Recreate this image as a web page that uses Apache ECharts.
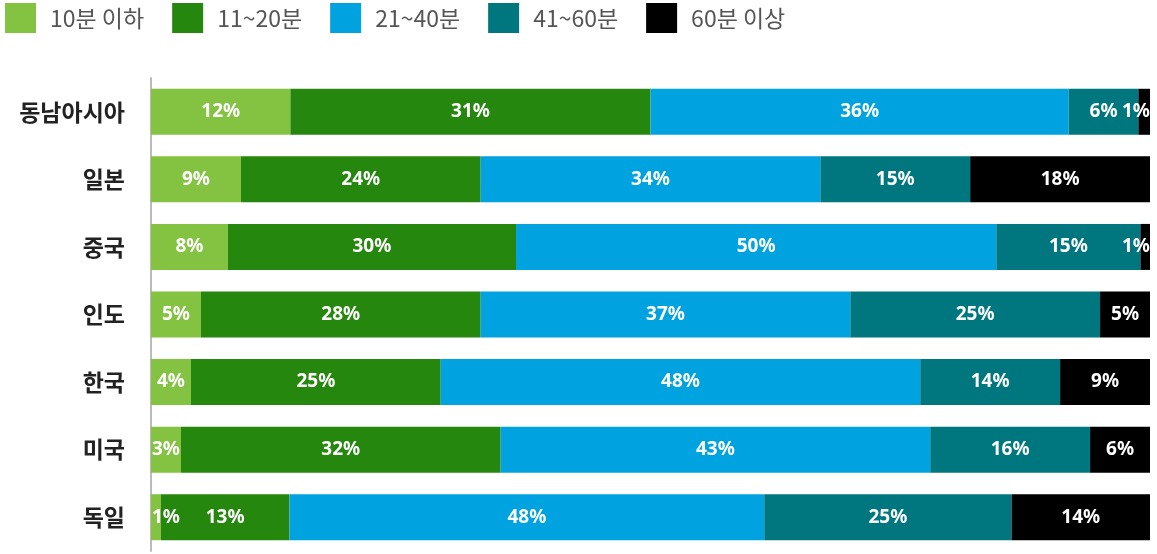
<!DOCTYPE html>
<html>
<head>
<meta charset="utf-8">
<script src="https://cdn.jsdelivr.net/npm/echarts@6/dist/echarts.min.js"></script>
<style>
  html, body { margin: 0; padding: 0; background: #fff; }
  #chart { width: 1157px; height: 554px; }
</style>
</head>
<body>
<div id="chart"></div>
<script>
// Commute time distribution by country (share of respondents, %)
const countries = ['동남아시아', '일본', '중국', '인도', '한국', '미국', '독일'];
const bandNames = ['10분 이하', '11~20분', '21~40분', '41~60분', '60분 이상'];
const bandColors = ['#84C341', '#26870E', '#00A3E0', '#00777F', '#000000'];

const under10 = [12, 9, 8, 5, 4, 3, 1];
const min11to20 = [31, 24, 30, 28, 25, 32, 13];
const min21to40 = [36, 34, 50, 37, 48, 43, 48];
const min41to60 = [6, 15, 15, 25, 14, 16, 25];
const over60 = [1, 18, 1, 5, 9, 6, 14];

const bands = [under10, min11to20, min21to40, min41to60, over60];

// Each bar is drawn as a 100% stack: a segment's length is its share of the row total.
const rowTotals = countries.map((_, i) => bands.reduce((s, b) => s + b[i], 0));

const series = bands.map((vals, k) => ({
  name: bandNames[k],
  type: 'bar',
  stack: 'total',
  barWidth: 46,
  itemStyle: { color: bandColors[k] },
  label: {
    show: true,
    position: 'inside',
    color: '#fff',
    fontFamily: 'Noto Sans, Open Sans, sans-serif',
    fontWeight: 'bold',
    fontSize: 19,
    formatter: p => vals[p.dataIndex] + '%'
  },
  data: vals.map((v, i) => {
    const share = v / rowTotals[i] * 100;
    const item = { value: share };
    // very thin end segments keep their label inside the plot area
    if (share < 2.5 && k === 0) item.label = { position: 'insideLeft', distance: 1 };
    if (share < 2.5 && k === bands.length - 1) item.label = { position: 'insideRight', distance: 0 };
    return item;
  })
}));

const chart = echarts.init(document.getElementById('chart'));
chart.setOption({
  animation: false,
  textStyle: { fontFamily: 'Noto Sans CJK KR, sans-serif' },
  legend: {
    left: 5,
    top: 3,
    padding: 0,
    itemWidth: 31,
    itemHeight: 30,
    itemGap: 28,
    icon: 'rect',
    textStyle: { fontSize: 23, color: '#555', fontFamily: 'Noto Sans CJK KR, sans-serif', padding: [0, 0, 0, 9] },
    data: bandNames
  },
  grid: { left: 151, right: 7, top: 78, bottom: 3, containLabel: false },
  xAxis: {
    type: 'value',
    min: 0,
    max: 100,
    show: false
  },
  yAxis: {
    type: 'category',
    inverse: true,
    data: countries,
    axisLine: { show: true, lineStyle: { color: '#bbbbbb', width: 2 } },
    axisTick: { show: false },
    axisLabel: {
      margin: 26,
      fontSize: 23,
      fontWeight: 'bold',
      color: '#222',
      fontFamily: 'Noto Sans CJK KR, sans-serif'
    }
  },
  series: series
});
</script>
</body>
</html>
